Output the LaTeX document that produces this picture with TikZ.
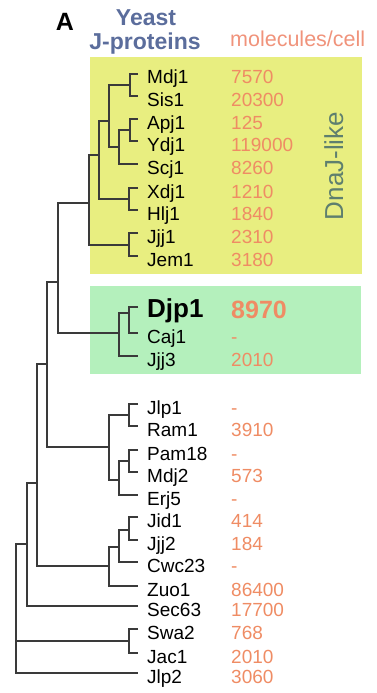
\documentclass[tikz,border=0pt]{standalone}
\usepackage{fontspec}
\setmainfont{Liberation Sans}

\definecolor{dnajyellow}{HTML}{E8EE80}
\definecolor{djpgreen}{HTML}{B4F0BC}
\definecolor{copysalmon}{HTML}{EF8C64}
\definecolor{headsalmon}{HTML}{F0937B}
\definecolor{yeastblue}{HTML}{5B6D9C}
\definecolor{labelgreen}{HTML}{5E7F6E}
\definecolor{treegray}{HTML}{3A3A3A}

\begin{document}
\begin{tikzpicture}[x=1pt, y=-1pt,
  leaf/.style={anchor=west, inner xsep=9pt, inner ysep=0pt, text height=20pt, text depth=0pt, font=\fontsize{19}{19}\selectfont},
  count/.style={anchor=west, inner sep=0pt, text height=20pt, text depth=0pt, text=copysalmon, font=\fontsize{19}{19}\selectfont},
  branch/.style={draw=treegray, line width=1.4pt}]

\useasboundingbox (0,0) rectangle (376,693);

% clade boxes
\fill[dnajyellow] (90,57) rectangle (362,274);
\fill[djpgreen] (90,286) rectangle (361,374);

% headers
\node[anchor=base, font=\bfseries\fontsize{25}{25}\selectfont] (panel) at (65,31) {A};
\node[anchor=base, text=yeastblue, font=\bfseries\fontsize{23}{23}\selectfont] (yeast) at (146,26) {Yeast};
\node[anchor=base, text=yeastblue, font=\bfseries\fontsize{23}{23}\selectfont] (jprot) at (145,50) {J-proteins};
\node[anchor=base west, inner sep=0pt, text=headsalmon, font=\fontsize{21.5}{21.5}\selectfont] (mol) at (230,47) {molecules/cell};
\node[rotate=90, anchor=base, text=labelgreen, font=\fontsize{26}{26}\selectfont] (dnaj) at (343,166) {DnaJ-like};

% leaves
\node[leaf] (mdj1) at (138,74) {Mdj1};
\node[leaf] (sis1) at (138,96) {Sis1};
\node[leaf] (apj1) at (138,119) {Apj1};
\node[leaf] (ydj1) at (138,141) {Ydj1};
\node[leaf] (scj1) at (138,164) {Scj1};
\node[leaf] (xdj1) at (138,188) {Xdj1};
\node[leaf] (hlj1) at (138,210) {Hlj1};
\node[leaf] (jjj1) at (138,233) {Jjj1};
\node[leaf] (jem1) at (138,256) {Jem1};

\node[leaf, text height=21pt, font=\bfseries\fontsize{26}{26}\selectfont] (djp1) at (138,307) {Djp1};
\node[leaf] (caj1) at (138,333) {Caj1};
\node[leaf] (jjj3) at (138,356) {Jjj3};

\node[leaf] (jlp1) at (138,404) {Jlp1};
\node[leaf] (ram1) at (138,426) {Ram1};
\node[leaf] (pam18) at (138,450) {Pam18};
\node[leaf] (mdj2) at (138,472) {Mdj2};
\node[leaf] (erj5) at (138,495) {Erj5};
\node[leaf] (jid1) at (138,517) {Jid1};
\node[leaf] (jjj2) at (138,540) {Jjj2};
\node[leaf] (cwc23) at (138,562) {Cwc23};
\node[leaf] (zuo1) at (138,586) {Zuo1};
\node[leaf] (sec63) at (138,606) {Sec63};
\node[leaf] (swa2) at (138,629) {Swa2};
\node[leaf] (jac1) at (138,653) {Jac1};
\node[leaf] (jlp2) at (138,673) {Jlp2};

% molecules per cell
\node[count] (n-mdj1) at (231,74) {7570};
\node[count] (n-sis1) at (231,96) {20300};
\node[count] (n-apj1) at (231,119) {125};
\node[count] (n-ydj1) at (231,141) {119000};
\node[count] (n-scj1) at (231,164) {8260};
\node[count] (n-xdj1) at (231,188) {1210};
\node[count] (n-hlj1) at (231,210) {1840};
\node[count] (n-jjj1) at (231,233) {2310};
\node[count] (n-jem1) at (231,256) {3180};

\node[count, text height=21pt, font=\bfseries\fontsize{25}{25}\selectfont] (n-djp1) at (231,308) {8970};
\node[count] (n-caj1) at (231,333) {-};
\node[count] (n-jjj3) at (231,356) {2010};

\node[count] (n-jlp1) at (231,404) {-};
\node[count] (n-ram1) at (231,426) {3910};
\node[count] (n-pam18) at (231,450) {-};
\node[count] (n-mdj2) at (231,472) {573};
\node[count] (n-erj5) at (231,495) {-};
\node[count] (n-jid1) at (231,517) {414};
\node[count] (n-jjj2) at (231,540) {184};
\node[count] (n-cwc23) at (231,562) {-};
\node[count] (n-zuo1) at (231,586) {86400};
\node[count] (n-sec63) at (231,606) {17700};
\node[count] (n-swa2) at (231,629) {768};
\node[count] (n-jac1) at (231,653) {2010};
\node[count] (n-jlp2) at (231,673) {3060};

% branch points
\coordinate (a1) at (130,85);
\coordinate (a2) at (130,130);
\coordinate (a3) at (119,147);
\coordinate (a4) at (109,121);
\coordinate (a5) at (129,199);
\coordinate (a6) at (99,155);
\coordinate (a7) at (129,245);
\coordinate (a8) at (89,203);
\coordinate (b1) at (129,313);
\coordinate (b2) at (119,333);
\coordinate (c1) at (58,282);
\coordinate (d1) at (129,415);
\coordinate (d2) at (129,461);
\coordinate (d3) at (119,480);
\coordinate (d4) at (109,447);
\coordinate (e1) at (129,530);
\coordinate (e2) at (119,547);
\coordinate (e3) at (109,566);
\coordinate (f1) at (47,364);
\coordinate (g1) at (37,483);
\coordinate (h1) at (27,544);
\coordinate (i1) at (129,641);
\coordinate (root) at (16,544);

% tree
\draw[branch] (mdj1.west) -| (a1) |- (sis1.west);
\draw[branch] (apj1.west) -| (a2) |- (ydj1.west);
\draw[branch] (a2) -| (a3) |- (scj1.west);
\draw[branch] (a1) -| (a4) |- (a3);
\draw[branch] (xdj1.west) -| (a5) |- (hlj1.west);
\draw[branch] (a4) -| (a6) |- (a5);
\draw[branch] (jjj1.west) -| (a7) |- (jem1.west);
\draw[branch] (a6) -| (a8) |- (a7);
\draw[branch] (djp1.west) -| (b1) |- (caj1.west);
\draw[branch] (b1) -| (b2) |- (jjj3.west);
\draw[branch] (a8) -| (c1) |- (b2);
\draw[branch] (jlp1.west) -| (d1) |- (ram1.west);
\draw[branch] (pam18.west) -| (d2) |- (mdj2.west);
\draw[branch] (d2) -| (d3) |- (erj5.west);
\draw[branch] (d1) -| (d4) |- (d3);
\draw[branch] (jid1.west) -| (e1) |- (jjj2.west);
\draw[branch] (e1) -| (e2) |- (cwc23.west);
\draw[branch] (e2) -| (e3) |- (zuo1.west);
\draw[branch] (c1) -| (f1) |- (d4);
\draw[branch] (f1) -| (g1) |- (e3);
\draw[branch] (g1) -| (h1) |- (sec63.west);
\draw[branch] (swa2.west) -| (i1) |- (jac1.west);
\draw[branch] (h1) -| (root) |- (jlp2.west);
\draw[branch] (root) |- (i1);
\end{tikzpicture}
\end{document}
